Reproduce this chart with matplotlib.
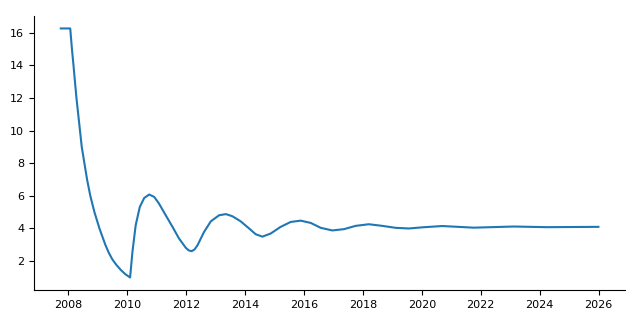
import numpy as np
import pandas as pd
import matplotlib
matplotlib.use('Agg')  # 无界面后端
import matplotlib.pyplot as plt

# 数据：从图上读出的（年份小数, 数值）
years = [2007.75, 2008.07, 2008.125, 2008.18, 2008.23, 2008.28, 2008.34, 2008.40,
         2008.46, 2008.55, 2008.64, 2008.75, 2008.89, 2009.06, 2009.26, 2009.38,
         2009.50, 2009.63, 2009.79, 2009.94, 2010.10,
         2010.18, 2010.29, 2010.43, 2010.58, 2010.75, 2010.92, 2011.08, 2011.31,
         2011.54, 2011.76, 2011.99, 2012.09, 2012.19, 2012.29, 2012.39, 2012.61,
         2012.84, 2013.12, 2013.35, 2013.57, 2013.85, 2014.14, 2014.36, 2014.59,
         2014.87, 2015.21, 2015.55, 2015.89, 2016.23, 2016.57, 2016.96, 2017.36,
         2017.75, 2018.20, 2018.66, 2019.11, 2019.56, 2020.01, 2020.69, 2021.76,
         2023.12, 2024.25, 2025.99]
values = [16.25, 16.25, 15.05, 14.0, 13.0, 12.0, 11.0, 10.0,
          9.0, 8.0, 7.0, 6.0, 5.0, 4.0, 3.0, 2.5,
          2.1, 1.78, 1.45, 1.2, 1.0,
          2.57, 4.2, 5.32, 5.87, 6.08, 5.93, 5.53, 4.81,
          4.10, 3.39, 2.82, 2.66, 2.61, 2.72, 2.98, 3.79,
          4.44, 4.81, 4.88, 4.75, 4.44, 4.0, 3.65, 3.5,
          3.69, 4.10, 4.40, 4.48, 4.34, 4.04, 3.88, 3.96,
          4.16, 4.26, 4.16, 4.04, 4.0, 4.07, 4.15, 4.05,
          4.12, 4.08, 4.10]


def to_date(y):
    start = pd.Timestamp(int(y), 1, 1)
    end = pd.Timestamp(int(y) + 1, 1, 1)
    return start + (end - start) * (y - int(y))


dates = [to_date(y) for y in years]

fig = plt.figure(figsize=(6.4, 3.2), dpi=100)
ax = fig.add_axes([0.053, 0.094, 0.924, 0.856])
ax.plot(dates, values, color='tab:blue', linewidth=1.5)

ax.spines['top'].set_visible(False)
ax.spines['right'].set_visible(False)
ax.tick_params(labelsize=8)

fig.savefig('out.png', dpi=100)
